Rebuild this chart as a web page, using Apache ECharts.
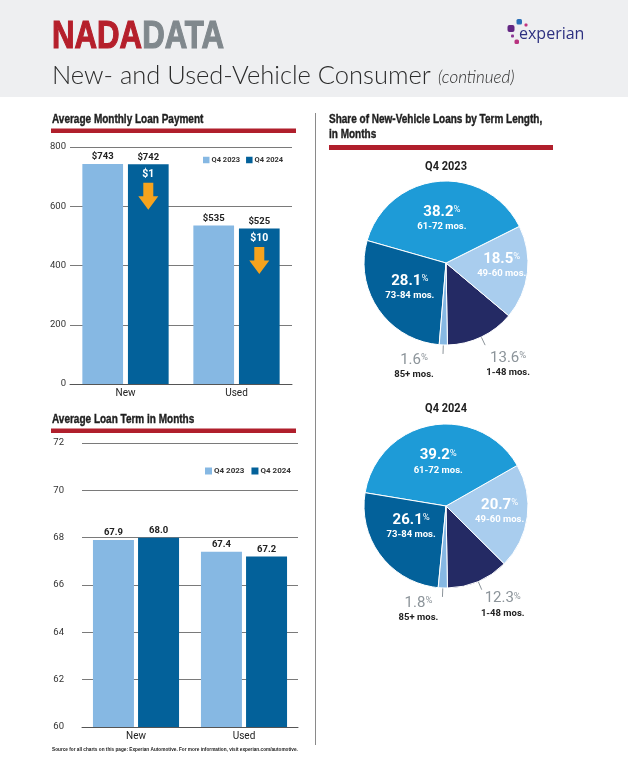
<!DOCTYPE html>
<html>
<head>
<meta charset="utf-8">
<script src="https://cdn.jsdelivr.net/npm/echarts@6/dist/echarts.min.js"></script>
<style>
  html, body { margin: 0; padding: 0; background: #fff; }
  #chart { width: 628px; height: 766px; }
</style>
</head>
<body>
<div id="chart"></div>
<script>
// values
const barCategories = ['New', 'Used'];
const seriesNames = ['Q4 2023', 'Q4 2024'];
const payment2023 = [743, 535];
const payment2024 = [742, 525];
const paymentTicks = [0, 200, 400, 600, 800];
const term2023 = [67.9, 67.4];
const term2024 = [68.0, 67.2];
const termTicks = [60, 62, 64, 66, 68, 70, 72];
const termBands = ['1-48 mos.', '49-60 mos.', '61-72 mos.', '73-84 mos.', '85+ mos.'];
const share2023 = [13.6, 18.5, 38.2, 28.1, 1.6];
const share2024 = [12.3, 20.7, 39.2, 26.1, 1.8];
const pieTitles = ['Q4 2023', 'Q4 2024'];
const outsideBands = ['1-48 mos.', '85+ mos.'];

const COND = "Roboto, 'Liberation Sans', sans-serif";
const RED = '#b01f2c';
const LIGHT = '#86b8e3';
const DARK = '#03619a';
const pieColors = ['#242a64', '#a9cdee', '#1e9bd7', '#03619a', '#86b8e3'];

const chart = echarts.init(document.getElementById('chart'));

function valueAxis(ticks, gridIndex, margin) {
  return {
    type: 'value',
    gridIndex: gridIndex,
    min: ticks[0],
    max: ticks[ticks.length - 1],
    interval: ticks[1] - ticks[0],
    axisLine: { show: false },
    axisTick: { show: false },
    axisLabel: { color: '#333', fontSize: 9.5, fontFamily: COND, margin: margin },
    splitLine: { lineStyle: { color: '#7a7a7a', width: 1 } }
  };
}

function categoryAxis(gridIndex) {
  return {
    type: 'category',
    gridIndex: gridIndex,
    data: barCategories,
    axisLine: { lineStyle: { color: '#555', width: 1 } },
    axisTick: { show: false },
    axisLabel: { color: '#222', fontSize: 10, fontFamily: COND, margin: 4 }
  };
}

function barSeries(name, values, idx, color, fmt, width, gap) {
  return {
    type: 'bar',
    name: name,
    xAxisIndex: idx,
    yAxisIndex: idx,
    data: values,
    barWidth: width,
    barGap: gap,
    itemStyle: { color: color },
    label: {
      show: true, position: 'top', distance: 2,
      color: '#222', fontSize: 9.5, fontWeight: 'bold', fontFamily: COND,
      formatter: fmt
    }
  };
}

// small nudges so the labels sit where the reference puts them
const pieLabelNudge = [
  { '1-48 mos.': [18, 20], '85+ mos.': [-24, 13], '49-60 mos.': [12, -2] },
  { '1-48 mos.': [16, 16], '85+ mos.': [-19, 13], '49-60 mos.': [10, 0], '73-84 mos.': [0, -6] }
];

function pieSeries(shares, center, k) {
  return {
    type: 'pie',
    center: center,
    radius: 82,
    clockwise: false,
    startAngle: 271,
    avoidLabelOverlap: false,
    silent: true,
    itemStyle: { borderColor: '#fff', borderWidth: 1 },
    label: {
      show: true,
      position: 'inside',
      fontFamily: COND,
      formatter: p => '{v|' + p.value.toFixed(1) + '}{p|%}\n{t|' + p.name + '}',
      rich: {
        v: { fontSize: 15, fontWeight: 'bold', color: '#fff', fontFamily: COND },
        p: { fontSize: 9.5, color: '#fff', fontFamily: COND, verticalAlign: 'top' },
        t: { fontSize: 9.5, fontWeight: 'bold', color: '#fff', fontFamily: COND, lineHeight: 14 }
      }
    },
    labelLine: { show: false },
    labelLayout: p => {
      const n = pieLabelNudge[k][termBands[p.dataIndex]];
      if (!n) return {};
      const out = { dx: n[0], dy: n[1] };
      if (outsideBands.indexOf(termBands[p.dataIndex]) >= 0) out.align = 'center';
      return out;
    },
    data: termBands.map((name, i) => {
      const item = { name: name, value: shares[i], itemStyle: { color: pieColors[i] } };
      if (outsideBands.indexOf(name) >= 0) {
        item.label = {
          position: 'outside',
          formatter: p => '{gv|' + p.value.toFixed(1) + '}{gp|%}\n{bt|' + p.name + '}',
          rich: {
            gv: { fontSize: 15, color: '#8c949a', fontFamily: COND },
            gp: { fontSize: 9.5, color: '#8c949a', fontFamily: COND, verticalAlign: 'top' },
            bt: { fontSize: 9.5, fontWeight: 'bold', color: '#222', fontFamily: COND, lineHeight: 14 }
          }
        };
        item.labelLine = { show: true, length: 9, length2: 0, lineStyle: { color: '#8c949a', width: 1 } };
      }
      return item;
    })
  };
}

function headText(x, y, text) {
  return {
    type: 'text', x: x, y: y, scaleX: 0.8, silent: true,
    style: {
      text: text, font: "bold 12.5px 'Liberation Sans', sans-serif", fill: '#1f1f1f',
      stroke: '#1f1f1f', lineWidth: 0.4, verticalAlign: 'middle', lineHeight: 15
    }
  };
}

function pieTitle(y, text) {
  return {
    type: 'text', x: 446, y: y, scaleX: 0.88, silent: true,
    style: { text: text, font: "bold 12.5px " + COND, fill: '#1f1f1f', align: 'center', verticalAlign: 'middle' }
  };
}

function legendAt(left, top, size, fontSize, gap) {
  return {
    data: seriesNames, left: left, top: top, padding: 0,
    itemWidth: size, itemHeight: size, itemGap: gap,
    icon: 'rect', selectedMode: false,
    textStyle: { fontSize: fontSize, fontWeight: 'bold', color: '#333', fontFamily: COND, padding: [0, 0, 0, -3] }
  };
}

const option = {
  animation: false,
  textStyle: { fontFamily: COND },
  grid: [
    { left: 70, top: 147, width: 222, height: 237 },
    { left: 82, top: 443, width: 216, height: 284 }
  ],
  legend: [
    legendAt(203, 156, 6.5, 7.5, 6),
    legendAt(205, 467, 7, 8, 7)
  ],
  xAxis: [categoryAxis(0), categoryAxis(1)],
  yAxis: [valueAxis(paymentTicks, 0, 4), valueAxis(termTicks, 1, 18)],
  series: [
    barSeries(seriesNames[0], payment2023, 0, LIGHT, p => '$' + p.value, 40.7, '12%'),
    Object.assign(barSeries(seriesNames[1], payment2024, 0, DARK, p => '$' + p.value, 40.7, '12%'), {
      markPoint: {
        symbol: 'path://M5,0 L15,0 L15,13 L20,13 L10,26 L0,13 L5,13 Z',
        symbolSize: [20, 27],
        symbolOffset: [0, 32],
        itemStyle: { color: '#f6a31d' },
        label: {
          show: true, position: 'top', distance: 3,
          color: '#fff', fontSize: 10.5, fontWeight: 'bold', fontFamily: COND,
          formatter: p => '$' + p.value
        },
        data: barCategories.map((c, i) => ({ coord: [c, payment2024[i]], value: payment2023[i] - payment2024[i] }))
      }
    }),
    barSeries(seriesNames[0], term2023, 1, LIGHT, p => p.value.toFixed(1), 41, '10%'),
    barSeries(seriesNames[1], term2024, 1, DARK, p => p.value.toFixed(1), 41, '10%'),
    pieSeries(share2023, [446, 263], 0),
    pieSeries(share2024, [446, 506], 1)
  ],
  graphic: [
    { type: 'rect', silent: true, shape: { x: 0, y: 0, width: 628, height: 97 }, style: { fill: '#eeeff1' } },
    {
      type: 'text', x: 52, y: 37, scaleX: 0.8, silent: true,
      style: {
        text: '{a|NADA}{b|DATA}', verticalAlign: 'middle',
        rich: {
          a: { font: "bold 39px 'Liberation Sans', Arial, sans-serif", fill: '#b51f2b', stroke: '#b51f2b', lineWidth: 1.2 },
          b: { font: "bold 39px 'Liberation Sans', Arial, sans-serif", fill: '#80888d', stroke: '#80888d', lineWidth: 1.2 }
        }
      }
    },
    {
      type: 'text', x: 52, y: 76, silent: true,
      style: {
        text: '{a|New- and Used-Vehicle Consumer} {b|(continued)}', verticalAlign: 'middle',
        rich: {
          a: { font: "300 25.5px Lato, Roboto, sans-serif", fill: '#2b2b2b' },
          b: { font: "italic 300 17px Lato, Roboto, sans-serif", fill: '#2b2b2b', padding: [4, 0, 0, 4] }
        }
      }
    },
    // experian mark
    { type: 'rect', silent: true, shape: { x: 516.5, y: 19, width: 5.5, height: 5.5, r: 1.5 }, style: { fill: '#2a6fb8' } },
    { type: 'rect', silent: true, shape: { x: 524.5, y: 23.5, width: 3, height: 3, r: 1 }, style: { fill: '#c2337e' } },
    { type: 'rect', silent: true, shape: { x: 507.5, y: 25, width: 7, height: 7, r: 2 }, style: { fill: '#632683' } },
    { type: 'rect', silent: true, shape: { x: 511, y: 34.5, width: 3, height: 3, r: 1 }, style: { fill: '#8b3595' } },
    { type: 'rect', silent: true, shape: { x: 514.5, y: 39.5, width: 4.5, height: 4.5, r: 1.5 }, style: { fill: '#b8327f' } },
    {
      type: 'text', x: 519, y: 34, silent: true,
      style: { text: 'experian', font: "16px 'Open Sans', sans-serif", fill: '#2d3080', verticalAlign: 'middle' }
    },
    {
      type: 'text', x: 581, y: 38, silent: true,
      style: { text: '.', font: "8px 'Open Sans', sans-serif", fill: '#2d3080', verticalAlign: 'middle' }
    },
    // section headings
    headText(52, 120, 'Average Monthly Loan Payment'),
    { type: 'rect', silent: true, shape: { x: 51, y: 128.5, width: 245, height: 4.5 }, style: { fill: RED } },
    headText(52, 420, 'Average Loan Term in Months'),
    { type: 'rect', silent: true, shape: { x: 51, y: 428.5, width: 245, height: 4.5 }, style: { fill: RED } },
    headText(329, 127.5, 'Share of New-Vehicle Loans by Term Length,\nin Months'),
    { type: 'rect', silent: true, shape: { x: 329, y: 145, width: 224, height: 5 }, style: { fill: RED } },
    { type: 'line', silent: true, shape: { x1: 315.5, y1: 113, x2: 315.5, y2: 745 }, style: { stroke: '#8a8a8a', lineWidth: 1 } },
    pieTitle(167, pieTitles[0]),
    pieTitle(409, pieTitles[1]),
    {
      type: 'text', x: 52, y: 749, scaleX: 0.76, silent: true,
      style: {
        text: 'Source for all charts on this page: Experian Automotive. For more information, visit experian.com/automotive.',
        font: "bold 6.2px 'Liberation Sans', sans-serif", fill: '#222', verticalAlign: 'middle'
      }
    }
  ]
};

chart.setOption(option);
</script>
</body>
</html>
